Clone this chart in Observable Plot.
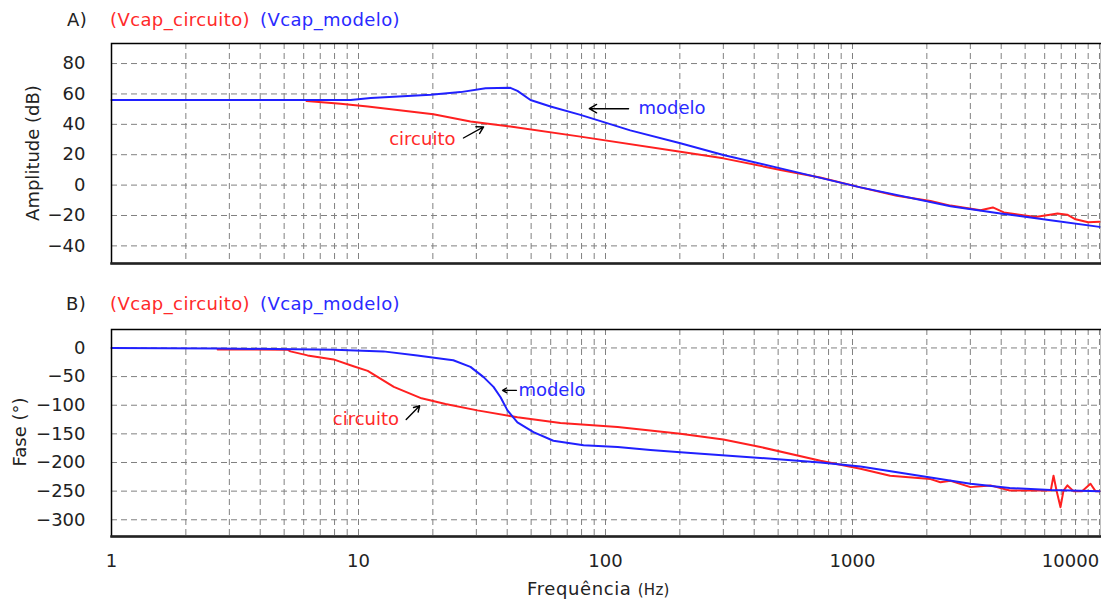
<!DOCTYPE html>
<html><head><meta charset="utf-8">
<script src="https://cdn.jsdelivr.net/npm/d3@7"></script>
<script src="https://cdn.jsdelivr.net/npm/@observablehq/plot@0.6"></script>
<style>
body{margin:0;background:#fff;}
#wrap{position:relative;width:1101px;height:601px;overflow:hidden;font-family:"DejaVu Sans",sans-serif;color:#222;}
.abs{position:absolute;white-space:nowrap;font-size:18px;line-height:18px;}
.ttl{letter-spacing:0.4px;}
.rot{transform:translate(-50%,-50%) rotate(-90deg);}
svg{display:block;}
</style></head>
<body><div id="wrap">
<div class="abs ttl" style="left:67px;top:11px;">A)</div>
<div class="abs ttl" style="left:110px;top:11px;color:#ff2a2a;">(Vcap_circuito)</div>
<div class="abs ttl" style="left:260px;top:11px;color:#2a2aff;">(Vcap_modelo)</div>
<div class="abs ttl" style="left:66px;top:295px;">B)</div>
<div class="abs ttl" style="left:110px;top:295px;color:#ff2a2a;">(Vcap_circuito)</div>
<div class="abs ttl" style="left:260px;top:295px;color:#2a2aff;">(Vcap_modelo)</div>
<div class="abs rot" style="left:33px;top:153px;">Amplitude (dB)</div>
<div class="abs rot" style="left:20px;top:432px;">Fase (°)</div>
<div class="abs" style="left:527px;top:580px;letter-spacing:0.6px;">Frequência <span style="font-size:15px;letter-spacing:0.3px;">(Hz)</span></div>
<div id="pa" style="position:absolute;left:0;top:0;"></div>
<div id="pb" style="position:absolute;left:0;top:280px;"></div>
</div>
<script>
// ---- data ----
const ampModeloF = [1, 9.3, 11.2, 19.6, 25.9, 32.7, 41.2, 44, 49.7, 59.9, 79.2, 126, 201, 300, 511, 1077, 2494, 3972, 6338, 10000];
const ampModeloV = [56, 56, 57.4, 59.4, 61.2, 63.8, 64, 62, 56, 51.7, 46.2, 36, 27.5, 19.8, 11, -1.5, -13.9, -18.7, -23.1, -27.5];
const ampCircuitoF = [6.16, 8.46, 10.9, 20.1, 28.4, 41.2, 79.2, 201, 300, 511, 740, 1077, 1510, 2070, 2494, 3300, 3700, 4100, 5500, 6300, 6760, 7400, 8000, 9000, 10000];
const ampCircuitoV = [55.4, 53.5, 51.7, 46.7, 41.8, 38.5, 31.9, 22, 17.6, 10, 5, -1.5, -7, -10.5, -13.5, -16.5, -14.7, -18, -21, -19.5, -18.7, -19.5, -22.5, -24.5, -24.2];
const phaseModeloF = [1, 2.7, 8, 12.6, 17.3, 22.9, 24.2, 28.4, 32.1, 35.2, 37.6, 40.1, 44, 51.1, 61.5, 81.5, 112, 152, 201, 424, 742, 1077, 2070, 3005, 4330, 6338, 10000];
const phaseModeloV = [0, -1, -3, -6, -13, -20, -21.5, -33, -51, -68, -86, -109, -130, -147, -162, -170, -173, -178, -182, -192, -200, -207, -226, -237, -244.5, -248, -250];
const phaseCircuitoF = [2.69, 5.16, 5.3, 6.22, 7.92, 9.54, 10.9, 13.9, 18, 22.5, 30.3, 44, 65.7, 112, 201, 300, 424, 742, 1077, 1420, 2070, 2270, 2494, 3005, 3620, 4330, 6350, 6515, 6700, 6953, 7150, 7418, 7850, 8500, 9195, 9632, 10000];
const phaseCircuitoV = [-2.8, -3, -6, -13, -20, -32, -40, -68, -88, -98, -109, -121, -131, -138, -150, -160, -173, -197, -211, -223, -229, -234.6, -232, -243, -240, -249, -249, -223, -249, -278, -249, -240, -250, -250, -237, -250, -250];
const ampTicks = [80, 60, 40, 20, 0, -20, -40];
const phaseTicks = [0, -50, -100, -150, -200, -250, -300];
const xTickLabels = [1, 10, 100, 1000];
const xLastLabel = [10000];
const decades = [1, 10, 100, 1000];
const multipliers = [1, 2, 3, 4, 5, 6, 7, 8, 9];
// annotations (data coordinates)
const annA = [
  {text: "modelo", color: "#2a2aff", tf: 136, tv: 50.6, f1: 124, v1: 50.3, f2: 86, v2: 50.3},
  {text: "circuito", color: "#ff2a2a", tf: 24.7, tv: 30.4, f1: 26.6, v1: 31, f2: 32.1, v2: 38.3}
];
const annB = [
  {text: "modelo", color: "#2a2aff", tf: 44.4, tv: -74, f1: 43.6, v1: -74, f2: 38.3, v2: -74},
  {text: "circuito", color: "#ff2a2a", tf: 14.6, tv: -125, f1: 15.6, v1: -125, f2: 17.7, v2: -101}
];

const red = "#ff2020", blue = "#2020ff";
const zipS = (F, V) => F.map((f, i) => ({f, v: V[i]}));
const xGrid = decades.flatMap(d => multipliers.map(m => m * d)).concat([10000]);
const gridStyle = {stroke: "#808080", strokeOpacity: 1, strokeDasharray: "6,4", strokeWidth: 1};
const xScale = {type: "log", domain: [1, 10190]};
const style = {fontFamily: "DejaVu Sans", fontSize: "18px", color: "#222", background: "transparent"};

function annMarks(ann) {
  const starts = ann.filter(d => d.text === "modelo"), ends = ann.filter(d => d.text === "circuito");
  return [
    Plot.arrow(ann, {x1: "f1", y1: "v1", x2: "f2", y2: "v2", stroke: "#000", strokeWidth: 1.4, headLength: 9}),
    Plot.text(starts, {x: "tf", y: "tv", text: "text", fill: "color", textAnchor: "start", fontSize: 18}),
    Plot.text(ends, {x: "tf", y: "tv", text: "text", fill: "color", textAnchor: "end", fontSize: 18})
  ];
}

const pa = Plot.plot({
  width: 1101, height: 270, marginLeft: 111, marginRight: 0, marginTop: 43, marginBottom: 7,
  x: {...xScale, axis: null}, y: {domain: [-51.6, 93.2]}, style,
  marks: [
    Plot.gridX(xGrid, gridStyle),
    Plot.gridY(ampTicks, gridStyle),
    Plot.axisY(ampTicks, {tickSize: 0, tickPadding: 26, label: null, fontSize: 18}),
    Plot.line(zipS(ampCircuitoF, ampCircuitoV), {x: "f", y: "v", stroke: red, strokeWidth: 2}),
    Plot.line(zipS(ampModeloF, ampModeloV), {x: "f", y: "v", stroke: blue, strokeWidth: 2}),
    ...annMarks(annA),
    Plot.frame({stroke: "#000", strokeWidth: 1.5}),
    Plot.frame({anchor: "bottom", stroke: "#222", strokeWidth: 2.5})
  ]
});
document.getElementById("pa").appendChild(pa);

const pb = Plot.plot({
  width: 1101, height: 321, marginLeft: 111, marginRight: 0, marginTop: 49, marginBottom: 65,
  x: xScale, y: {domain: [-329.2, 32.2]}, style,
  marks: [
    Plot.gridX(xGrid, gridStyle),
    Plot.gridY(phaseTicks, gridStyle),
    Plot.axisY(phaseTicks, {tickSize: 0, tickPadding: 26, label: null, fontSize: 18}),
    Plot.axisX(xTickLabels, {tickSize: 0, tickPadding: 18, label: null, fontSize: 18, tickFormat: d => String(d)}),
    Plot.axisX(xLastLabel, {tickSize: 0, tickPadding: 18, label: null, fontSize: 18, dx: -29, tickFormat: d => String(d)}),
    Plot.line(zipS(phaseCircuitoF, phaseCircuitoV), {x: "f", y: "v", stroke: red, strokeWidth: 2}),
    Plot.line(zipS(phaseModeloF, phaseModeloV), {x: "f", y: "v", stroke: blue, strokeWidth: 2}),
    ...annMarks(annB),
    Plot.frame({stroke: "#000", strokeWidth: 1.5}),
    Plot.frame({anchor: "bottom", stroke: "#222", strokeWidth: 2.5})
  ]
});
document.getElementById("pb").appendChild(pb);
</script>
</body></html>
